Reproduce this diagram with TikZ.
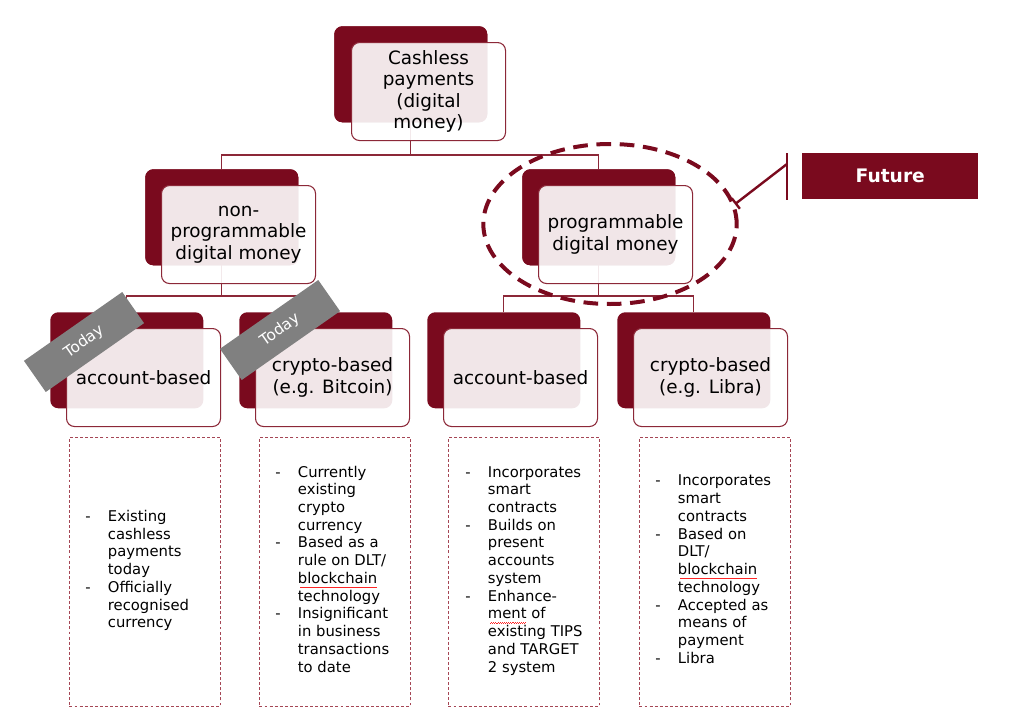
\documentclass[tikz,border=0pt]{standalone}
\usepackage{fontspec}
\setmainfont{DejaVu Sans}
\usetikzlibrary{shapes.geometric,arrows.meta}
\definecolor{dred}{RGB}{122,10,30}
\definecolor{bline}{RGB}{140,40,56}
\definecolor{dline}{RGB}{165,70,85}
\definecolor{bandgray}{RGB}{128,128,128}
\newsavebox{\wavebox}
\newcommand\redwave[1]{\sbox{\wavebox}{#1}\rlap{\usebox{\wavebox}}%
  \textcolor{red!85!white}{\leaders\hbox{\rule[-3.3pt]{0.8pt}{0.45pt}\rule[-2.85pt]{0.8pt}{0.45pt}}\hskip\wd\wavebox}}
\begin{document}
\begin{tikzpicture}[x=0.75pt,y=-0.75pt,
  backbox/.style={fill=dred, draw=none, rounded corners=6pt, inner sep=0pt,
    minimum width=114.75pt, minimum height=72pt, anchor=north west},
  frontbox/.style={fill=white, fill opacity=0.9, text opacity=1, draw=bline, line width=0.8pt,
    rounded corners=6pt, inner sep=0pt, minimum width=115.5pt, minimum height=73.5pt,
    anchor=north west, align=center, text=black, font=\fontsize{13.8}{16}\selectfont},
  conn/.style={draw=bline, line width=0.9pt},
  dashbox/.style={draw=dline, line width=0.7pt, dash pattern=on 2.2pt off 1.6pt,
    inner sep=0pt, minimum width=113.25pt, minimum height=201.75pt, anchor=north west},
  bullets/.style={anchor=west, inner sep=0pt, align=left, text=black,
    font=\fontsize{11.1}{13.3}\selectfont},
  todayband/.style={fill=bandgray, draw=none, minimum width=90pt, minimum height=28.5pt,
    rotate=35, text=white, inner sep=0pt, font=\fontsize{11.5}{13}\selectfont},
  callout/.style={draw=dred, line width=1.8pt},
]
\useasboundingbox (0,0) rectangle (1015,725);

% junction coordinates
\coordinate (j1) at (410,155);
\coordinate (j2) at (221,296);
\coordinate (j3) at (598,296);

% back boxes
\node[backbox] (topb) at (334,26) {};
\node[backbox] (l2ab) at (145,169) {};
\node[backbox] (l2bb) at (522,169) {};
\node[backbox] (l3ab) at (50,312) {};
\node[backbox] (l3bb) at (239,312) {};
\node[backbox] (l3cb) at (427,312) {};
\node[backbox] (l3db) at (617,312) {};

% connectors
\draw[conn] (topb.center) -- (topb.center |- j1);
\draw[conn] (l2ab.north) |- (j1) -| (l2bb.north);
\draw[conn] (l2ab.center) -- (l2ab.center |- j2);
\draw[conn] (l3ab.north) |- (j2) -| (l3bb.north);
\draw[conn] (l2bb.center) -- (l2bb.center |- j3);
\draw[conn] (l3cb.north) |- (j3) -| (l3db.north);

% redraw back boxes over connectors
\node[backbox] at (334,26) {};
\node[backbox] at (145,169) {};
\node[backbox] at (522,169) {};

% front boxes
\node[frontbox] (top) at (351,42) {Cashless\\payments\\(digital\\money)};
\node[frontbox] (l2a) at (161,185) {non-\\programmable\\digital money};
\node[frontbox] (l2b) at (538,185) {programmable\\digital money};
\node[frontbox] (l3a) at (66,328) {account-based};
\node[frontbox] (l3b) at (255,328) {crypto-based\\(e.g. Bitcoin)};
\node[frontbox] (l3c) at (443,328) {account-based};
\node[frontbox] (l3d) at (633,328) {crypto-based\\(e.g. Libra)};

% Today bands
\node[todayband] (today1) at (84,342) {Today};
\node[todayband] (today2) at (280,330) {Today};

% dashed ellipse and callout
\node[ellipse, draw=dred, line width=3pt, dash pattern=on 11pt off 6.5pt,
  minimum width=190pt, minimum height=120pt, inner sep=0pt] (ell) at (610,224) {};
\coordinate (barT) at (787,153);
\coordinate (barB) at (787,200);
\coordinate (barM) at (787,164);
\draw[callout] (barT) -- (barB);
\draw[callout, -{Bar[width=10pt]}] (barM) -- (ell.9);
\node[fill=dred, draw=none, minimum width=132pt, minimum height=34.5pt, inner sep=0pt,
  anchor=north west, text=white, font=\bfseries\fontsize{14}{16}\selectfont] (fut) at (802,153) {Future};

% dashed description boxes
\node[dashbox] (d1) at (69,437) {};
\node[dashbox] (d2) at (259,437) {};
\node[dashbox] (d3) at (448,437) {};
\node[dashbox] (d4) at (639,437) {};

\node[bullets] (t1) at (85,571) {\begin{tabular}{@{}p{17pt}@{}l@{}}
-&Existing\\ &cashless\\ &payments\\ &today\\
-&Officially\\ &recognised\\ &currency
\end{tabular}};
\node[bullets] (t2) at (275,571) {\begin{tabular}{@{}p{17pt}@{}l@{}}
-&Currently\\ &existing\\ &crypto\\ &currency\\
-&Based as a\\ &rule on DLT/\\ &\redwave{blockchain}\\ &technology\\
-&Insignificant\\ &in business\\ &transactions\\ &to date
\end{tabular}};
\node[bullets] (t3) at (465,571) {\begin{tabular}{@{}p{17pt}@{}l@{}}
-&Incorporates\\ &smart\\ &contracts\\
-&Builds on\\ &present\\ &accounts\\ &system\\
-&Enhance-\\ &\redwave{ment} of\\ &existing TIPS\\ &and TARGET\\ &2 system
\end{tabular}};
\node[bullets] (t4) at (655,571) {\begin{tabular}{@{}p{17pt}@{}l@{}}
-&Incorporates\\ &smart\\ &contracts\\
-&Based on\\ &DLT/\\ &\redwave{blockchain}\\ &technology\\
-&Accepted as\\ &means of\\ &payment\\
-&Libra
\end{tabular}};
\end{tikzpicture}
\end{document}
